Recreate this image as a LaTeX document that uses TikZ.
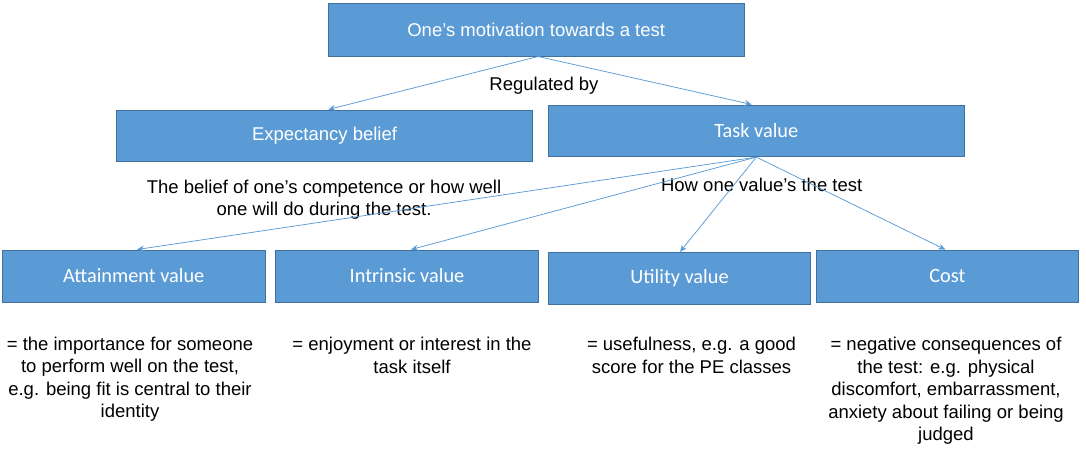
\documentclass[tikz,border=0pt]{standalone}
\usepackage{fontspec}
\setmainfont{Liberation Sans}
\newfontfamily\calibri{Carlito}
\usetikzlibrary{arrows.meta}
\definecolor{boxfill}{HTML}{5B9BD5}
\definecolor{boxline}{HTML}{41719C}
\definecolor{arrowc}{HTML}{5B9BD5}
\tikzset{
  box/.style={draw=boxline, line width=0.9pt, fill=boxfill, text=white, inner sep=0pt, anchor=center},
  arialtxt/.style={font=\fontsize{18.5}{22.5}\selectfont},
  calitxt/.style={font=\calibri\fontsize{20.3}{24}\selectfont},
  desc/.style={font=\fontsize{18.5}{22.5}\selectfont, align=center, inner sep=0pt, text=black},
  conn/.style={draw=arrowc, line width=0.75pt, -{Stealth[length=7pt,width=6pt]}},
}
\begin{document}
\begin{tikzpicture}[x=1pt,y=-1pt]
\useasboundingbox (0,0) rectangle (1086,460);
\node[box, arialtxt, minimum width=416pt, minimum height=52.7pt] (top) at (536.2,29.7) {One’s motivation towards a test};
\node[box, arialtxt, minimum width=415.6pt, minimum height=51.7pt] (exp) at (324.5,135.8) {Expectancy belief};
\node[box, calitxt, minimum width=416pt, minimum height=51.7pt] (task) at (756.3,130.8) {Task value};
\node[box, calitxt, minimum width=262.3pt, minimum height=52pt] (att) at (133.8,276) {Attainment value};
\node[box, calitxt, minimum width=262.6pt, minimum height=52pt] (intr) at (407,276) {Intrinsic value};
\node[box, calitxt, minimum width=262.4pt, minimum height=51.7pt] (util) at (679.5,278.2) {Utility value};
\node[box, calitxt, minimum width=262.7pt, minimum height=52.3pt] (cost) at (947.3,276.2) {Cost};

\node[desc, anchor=center] (reg) at (544,86) {Regulated by};
\node[desc, anchor=center] (how) at (761.7,185) {How one value’s the test};
\node[desc, anchor=north] (bel) at (324,179.5) {The belief of one’s competence or how well\\one will do during the test.};
\node[desc, anchor=north] (attd) at (130,336.5) {= the importance for someone\\to perform well on the test,\\e.g. being fit is central to their\\identity};
\node[desc, anchor=north] (intrd) at (412,337) {= enjoyment or interest in the\\task itself};
\node[desc, anchor=north] (utild) at (691.5,337) {= usefulness, e.g. a good\\score for the PE classes};
\node[desc, anchor=north] (costd) at (946,337.3) {= negative consequences of\\the test: e.g. physical\\discomfort, embarrassment,\\anxiety about failing or being\\judged};

\draw[conn] ([xshift=2pt]top.south) -- ([xshift=3.8pt]exp.north);
\draw[conn] ([xshift=2pt]top.south) -- ([xshift=-4.6pt]task.north);
\draw[conn] (task.south) -- ([xshift=3.2pt]att.north);
\draw[conn] (task.south) -- ([xshift=4pt]intr.north);
\draw[conn] (task.south) -- ([xshift=0.5pt]util.north);
\draw[conn] (task.south) -- ([xshift=-2pt]cost.north);
\end{tikzpicture}
\end{document}
